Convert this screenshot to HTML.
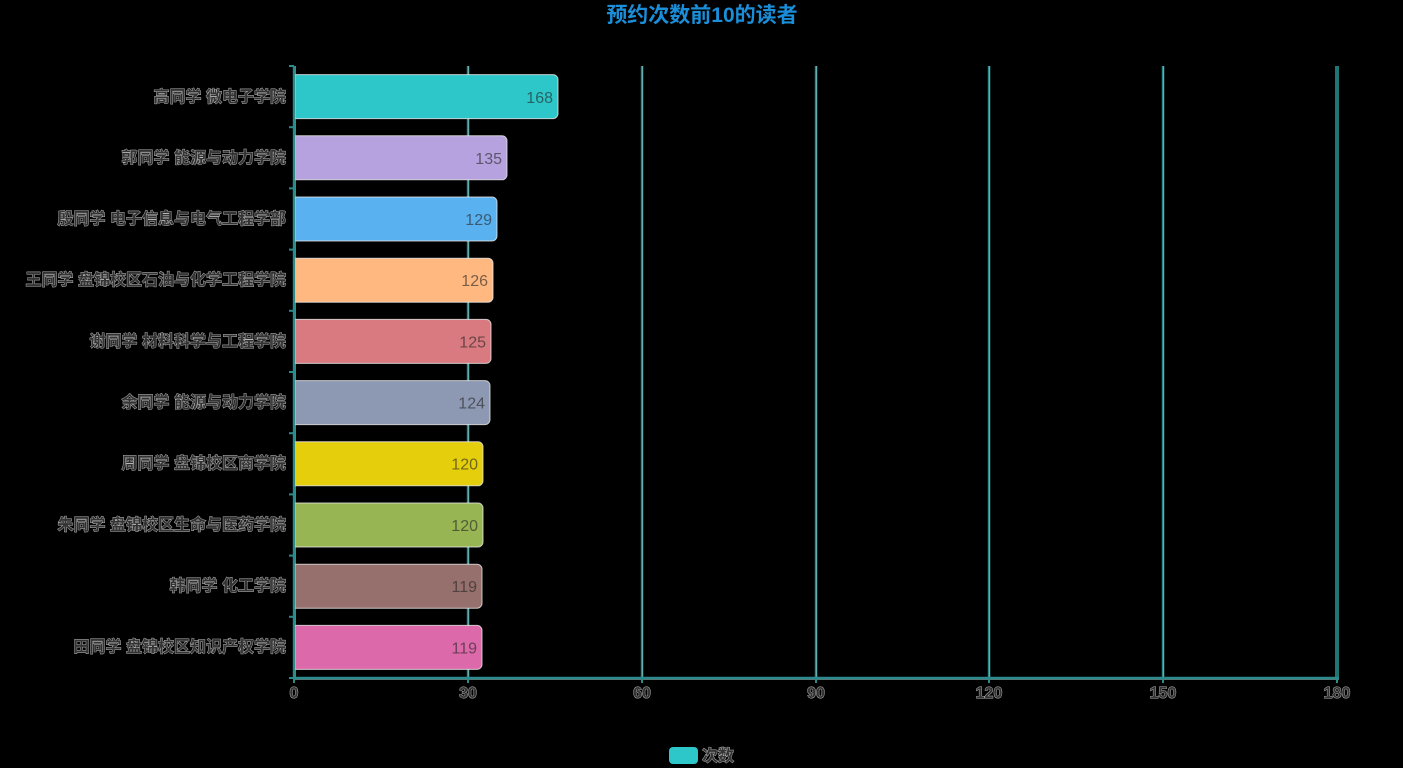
<!DOCTYPE html>
<html>
<head>
<meta charset="utf-8">
<style>
  html, body { margin: 0; padding: 0; background: #000; }
  body { width: 1403px; height: 768px; overflow: hidden; }
  svg { display: block; }
  .cat { font-family: "Liberation Sans", "Noto Sans CJK SC", sans-serif; font-size: 16px; font-weight: bold; fill: #333; stroke: #b8b8b8; stroke-width: 0.9px; paint-order: stroke; text-anchor: end; }
  .tick { font-family: "Liberation Sans", "Noto Sans CJK SC", sans-serif; font-size: 16px; font-weight: bold; fill: #333; stroke: #b8b8b8; stroke-width: 0.9px; paint-order: stroke; text-anchor: middle; }
  .val { font-family: "Liberation Sans", "Noto Sans CJK SC", sans-serif; font-size: 16px; fill: #222; fill-opacity: 0.6; text-anchor: end; }
  .title { font-family: "Liberation Sans", "Noto Sans CJK SC", sans-serif; font-size: 21px; font-weight: bold; fill: #1a8ed8; text-anchor: middle; }
</style>
</head>
<body>
<svg width="1403" height="768" viewBox="0 0 1403 768" xmlns="http://www.w3.org/2000/svg">
  <rect x="0" y="0" width="1403" height="768" fill="#000"/>

  <text class="title" x="702" y="22">预约次数前10的读者</text>

  <g>
    <line x1="468" y1="66" x2="468" y2="678" stroke="#2b8a8c" stroke-width="2.4"/>
    <line x1="642" y1="66" x2="642" y2="678" stroke="#2b8a8c" stroke-width="2.4"/>
    <line x1="816" y1="66" x2="816" y2="678" stroke="#2b8a8c" stroke-width="2.4"/>
    <line x1="989" y1="66" x2="989" y2="678" stroke="#2b8a8c" stroke-width="2.4"/>
    <line x1="1163" y1="66" x2="1163" y2="678" stroke="#2b8a8c" stroke-width="2.4"/>
    <line x1="1337" y1="66" x2="1337" y2="678" stroke="#1f7474" stroke-width="4"/>
    <line x1="468.8" y1="66" x2="468.8" y2="678" stroke="#9fd0d0" stroke-width="0.6"/>
    <line x1="642.8" y1="66" x2="642.8" y2="678" stroke="#9fd0d0" stroke-width="0.6"/>
    <line x1="816.8" y1="66" x2="816.8" y2="678" stroke="#9fd0d0" stroke-width="0.6"/>
    <line x1="989.8" y1="66" x2="989.8" y2="678" stroke="#9fd0d0" stroke-width="0.6"/>
    <line x1="1163.8" y1="66" x2="1163.8" y2="678" stroke="#9fd0d0" stroke-width="0.6"/>
  </g>

  <g stroke="#e8e8e8" stroke-width="1" stroke-opacity="0.8">
    <path d="M295,74.6 H553 A5,5 0 0 1 558,79.6 V113.6 A5,5 0 0 1 553,118.6 H295 Z" fill="#2ec7c9"/>
    <path d="M295,135.8 H502 A5,5 0 0 1 507,140.8 V174.8 A5,5 0 0 1 502,179.8 H295 Z" fill="#b6a2de"/>
    <path d="M295,197 H492 A5,5 0 0 1 497,202 V236 A5,5 0 0 1 492,241 H295 Z" fill="#5ab1ef"/>
    <path d="M295,258.2 H488 A5,5 0 0 1 493,263.2 V297.2 A5,5 0 0 1 488,302.2 H295 Z" fill="#ffb980"/>
    <path d="M295,319.4 H486 A5,5 0 0 1 491,324.4 V358.4 A5,5 0 0 1 486,363.4 H295 Z" fill="#d87a80"/>
    <path d="M295,380.6 H485 A5,5 0 0 1 490,385.6 V419.6 A5,5 0 0 1 485,424.6 H295 Z" fill="#8d98b3"/>
    <path d="M295,441.8 H478 A5,5 0 0 1 483,446.8 V480.8 A5,5 0 0 1 478,485.8 H295 Z" fill="#e5cf0d"/>
    <path d="M295,503 H478 A5,5 0 0 1 483,508 V542 A5,5 0 0 1 478,547 H295 Z" fill="#97b552"/>
    <path d="M295,564.2 H477 A5,5 0 0 1 482,569.2 V603.2 A5,5 0 0 1 477,608.2 H295 Z" fill="#95706d"/>
    <path d="M295,625.4 H477 A5,5 0 0 1 482,630.4 V664.4 A5,5 0 0 1 477,669.4 H295 Z" fill="#dc69aa"/>
  </g>

  <g>
    <text class="val" x="553" y="103">168</text>
    <text class="val" x="502" y="164">135</text>
    <text class="val" x="492" y="225">129</text>
    <text class="val" x="488" y="286">126</text>
    <text class="val" x="486" y="347.5">125</text>
    <text class="val" x="485" y="408.5">124</text>
    <text class="val" x="478" y="469.5">120</text>
    <text class="val" x="478" y="531">120</text>
    <text class="val" x="477" y="592">119</text>
    <text class="val" x="477" y="653.5">119</text>
  </g>

  <g>
    <line x1="294" y1="66" x2="294" y2="679" stroke="#2b8a8c" stroke-width="2.4"/>
    <line x1="295.3" y1="66" x2="295.3" y2="679" stroke="#9fd0d0" stroke-width="0.6"/>
    <g stroke="#2b8a8c" stroke-width="2">
      <line x1="289" y1="66" x2="294" y2="66"/>
      <line x1="289" y1="127.2" x2="294" y2="127.2"/>
      <line x1="289" y1="188.4" x2="294" y2="188.4"/>
      <line x1="289" y1="249.6" x2="294" y2="249.6"/>
      <line x1="289" y1="310.8" x2="294" y2="310.8"/>
      <line x1="289" y1="372" x2="294" y2="372"/>
      <line x1="289" y1="433.2" x2="294" y2="433.2"/>
      <line x1="289" y1="494.4" x2="294" y2="494.4"/>
      <line x1="289" y1="555.6" x2="294" y2="555.6"/>
      <line x1="289" y1="616.8" x2="294" y2="616.8"/>
      <line x1="289" y1="678" x2="294" y2="678"/>
    </g>
  </g>

  <g>
    <line x1="293" y1="678" x2="1339" y2="678" stroke="#2b8a8c" stroke-width="2.4"/>
    <line x1="293" y1="679.5" x2="1339" y2="679.5" stroke="#9fd0d0" stroke-width="0.6"/>
    <g stroke="#2b8a8c" stroke-width="2">
      <line x1="294" y1="678" x2="294" y2="683"/>
      <line x1="468" y1="678" x2="468" y2="683"/>
      <line x1="642" y1="678" x2="642" y2="683"/>
      <line x1="816" y1="678" x2="816" y2="683"/>
      <line x1="989" y1="678" x2="989" y2="683"/>
      <line x1="1163" y1="678" x2="1163" y2="683"/>
      <line x1="1337" y1="678" x2="1337" y2="683"/>
    </g>
  </g>

  <g>
    <text class="tick" x="294" y="698">0</text>
    <text class="tick" x="468" y="698">30</text>
    <text class="tick" x="642" y="698">60</text>
    <text class="tick" x="816" y="698">90</text>
    <text class="tick" x="989" y="698">120</text>
    <text class="tick" x="1163" y="698">150</text>
    <text class="tick" x="1337" y="698">180</text>
  </g>

  <g>
    <text class="cat" x="286" y="102">高同学 微电子学院</text>
    <text class="cat" x="286" y="163">郭同学 能源与动力学院</text>
    <text class="cat" x="286" y="224">殷同学 电子信息与电气工程学部</text>
    <text class="cat" x="286" y="285">王同学 盘锦校区石油与化学工程学院</text>
    <text class="cat" x="286" y="346.5">谢同学 材料科学与工程学院</text>
    <text class="cat" x="286" y="407.5">余同学 能源与动力学院</text>
    <text class="cat" x="286" y="468.5">周同学 盘锦校区商学院</text>
    <text class="cat" x="286" y="530">朱同学 盘锦校区生命与医药学院</text>
    <text class="cat" x="286" y="591">韩同学 化工学院</text>
    <text class="cat" x="286" y="652">田同学 盘锦校区知识产权学院</text>
  </g>

  <rect x="669" y="747" width="29" height="17" rx="4" ry="4" fill="#2ec7c9"/>
  <text class="cat" x="702" y="761" style="text-anchor:start">次数</text>
</svg>
</body>
</html>
